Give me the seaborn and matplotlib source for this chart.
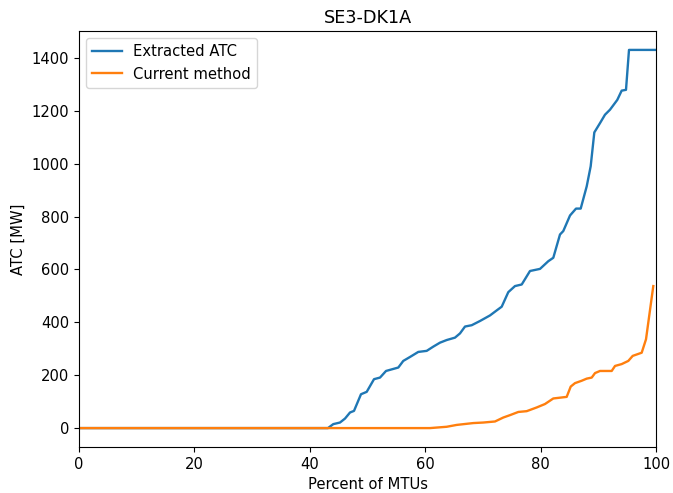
import matplotlib
matplotlib.use("Agg")
import matplotlib.pyplot as plt
import seaborn as sns
import pandas as pd

title = "SE3-DK1A"
x_label = "Percent of MTUs"
y_label = "ATC [MW]"

extracted_pct = [0, 43.15, 44.07, 45.23, 46.1, 46.97, 47.66, 48.87, 49.86, 51.13, 52.17,
                 53.21, 55.34, 56.2, 57.37, 58.8, 60.26, 61.4, 62.56, 63.73, 65.16,
                 66.03, 66.9, 68.06, 69.5, 71.23, 72.39, 73.26, 74.4, 75.56, 76.73,
                 78.16, 79.9, 81.33, 82.2, 83.36, 83.93, 85.1, 86.14, 86.95, 87.99,
                 88.68, 89.31, 90.29, 91.16, 92.03, 93.29, 94.05, 94.8, 95.32, 100]
extracted_atc = [0, 0, 15, 21, 36, 59, 65, 128, 137, 185, 191,
                 216, 229, 254, 269, 288, 292, 308, 323, 333, 342,
                 358, 384, 389, 405, 426, 445, 459, 514, 537, 543,
                 594, 602, 631, 644, 732, 745, 804, 830, 830, 914,
                 990, 1118, 1153, 1185, 1204, 1241, 1276, 1279, 1430, 1430]

current_pct = [0, 60.83, 63.73, 65.46, 68.34, 70.07, 72.1, 73.54, 74.7, 76.14, 77.59,
               79.32, 80.76, 82.2, 84.52, 85.22, 85.96, 87.12, 87.99, 88.86, 89.43,
               90.29, 92.32, 92.9, 94.05, 95.2, 95.96, 97.52, 98.27, 99.53]
current_atc = [0, 0, 5, 12, 19, 21, 25, 40, 49, 61, 64,
               78, 91, 112, 118, 157, 170, 179, 187, 191, 208,
               216, 216, 235, 242, 254, 273, 285, 336, 537]

series_names = ["Extracted ATC", "Current method"]

df = pd.concat([
    pd.DataFrame({"pct": extracted_pct, "atc": extracted_atc, "series": series_names[0]}),
    pd.DataFrame({"pct": current_pct, "atc": current_atc, "series": series_names[1]}),
], ignore_index=True)

plt.rcParams["font.size"] = 10.6
plt.rcParams["lines.linewidth"] = 1.7

fig = plt.figure(figsize=(6.73, 4.93), dpi=100)
ax = fig.add_axes([79/673, 1 - 447/493, (656 - 79)/673, (447 - 31)/493])
sns.lineplot(data=df, x="pct", y="atc", hue="series", hue_order=series_names,
             palette=["#1f77b4", "#ff7f0e"], estimator=None, sort=False, ax=ax,
             linewidth=1.7)
ax.set_xlim(0, 100)
ax.set_title(title, fontsize=12.7)
ax.set_xlabel(x_label)
ax.set_ylabel(y_label)
ax.legend(loc="upper left", title=None)
fig.savefig("out.png", dpi=100)
